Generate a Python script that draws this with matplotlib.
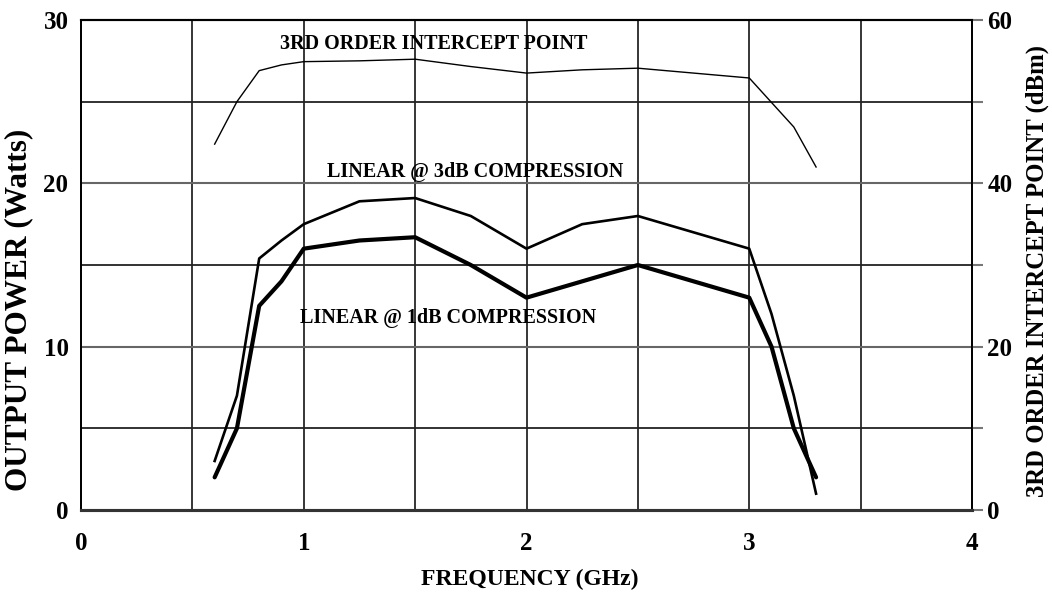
import matplotlib
matplotlib.use("Agg")
import matplotlib.pyplot as plt

# Data (frequency in GHz)
freq_3db = [0.6, 0.7, 0.8, 0.9, 1.0, 1.25, 1.5, 1.75, 2.0, 2.25, 2.5, 3.0, 3.1, 3.2, 3.3]
pout_3db = [3.0, 7.0, 15.4, 16.5, 17.5, 18.9, 19.1, 18.0, 16.0, 17.5, 18.0, 16.0, 12.0, 7.0, 1.0]

freq_1db = [0.6, 0.7, 0.8, 0.9, 1.0, 1.25, 1.5, 1.75, 2.0, 2.25, 2.5, 3.0, 3.1, 3.2, 3.3]
pout_1db = [2.0, 5.0, 12.5, 14.0, 16.0, 16.5, 16.7, 15.0, 13.0, 14.0, 15.0, 13.0, 10.0, 5.0, 2.0]

freq_ip3 = [0.6, 0.7, 0.8, 0.9, 1.0, 1.25, 1.5, 1.75, 2.0, 2.25, 2.5, 3.0, 3.2, 3.3]
ip3_dbm = [44.8, 50.0, 53.8, 54.5, 54.9, 55.0, 55.2, 54.3, 53.5, 53.9, 54.1, 52.9, 46.9, 42.0]

x_ticks = [0, 1, 2, 3, 4]
left_ticks = [0, 10, 20, 30]
right_ticks = [0, 20, 40, 60]

plt.rcParams['font.family'] = ['Liberation Serif', 'DejaVu Serif']
plt.rcParams['font.weight'] = 'bold'

fig = plt.figure(figsize=(10.52, 5.93), dpi=100)
ax = fig.add_axes([81/1052, 83/593, (972-81)/1052, (510-20)/593])
ax2 = ax.twinx()

ax.set_xlim(0, 4)
ax.set_ylim(0, 30)
ax2.set_ylim(0, 60)

# grid
for gx in [0.5, 1, 1.5, 2, 2.5, 3, 3.5]:
    ax.axvline(gx, color='black', lw=1.1, zorder=1)
for gy in [5, 15, 25]:
    ax.axhline(gy, color='#222222', lw=1.3, zorder=1)
for gy in [10, 20]:
    ax.axhline(gy, color='#666666', lw=1.5, zorder=1)

ax.plot(freq_ip3, [v / 2.0 for v in ip3_dbm], color='black', lw=1.0, zorder=3)
ax.plot(freq_3db, pout_3db, color='black', lw=1.9, zorder=3)
ax.plot(freq_1db, pout_1db, color='black', lw=3.0, zorder=3, solid_capstyle='round')

ax.set_xticks(x_ticks)
ax.set_yticks(left_ticks)
ax.tick_params(axis='both', length=0, labelsize=18)
ax.tick_params(axis='x', pad=16)
ax.tick_params(axis='y', pad=9)

ax2.set_yticks(right_ticks)
ax2.set_yticks([10, 30, 50], minor=True)
ax2.tick_params(axis='y', which='both', direction='out', length=8, width=1.5,
                color='#777777', labelsize=18, pad=3)
ax2.tick_params(axis='y', which='minor', labelright=False)

for a in (ax, ax2):
    a.spines['top'].set_linewidth(1.5)
    a.spines['left'].set_linewidth(1.3)
    a.spines['right'].set_linewidth(1.3)
    a.spines['bottom'].set_linewidth(2.2)
    a.spines['bottom'].set_color('#333333')

ax.text(1.585, 28.53, '3RD ORDER INTERCEPT POINT', ha='center', va='center',
        fontsize=14.5, fontweight='bold', zorder=4)
ax.text(1.77, 20.7, 'LINEAR @ 3dB COMPRESSION', ha='center', va='center',
        fontsize=14.5, fontweight='bold', zorder=4)
ax.text(1.648, 11.73, 'LINEAR @ 1dB COMPRESSION', ha='center', va='center',
        fontsize=14.5, fontweight='bold', zorder=4)

fig.text(530/1052, 1 - 579/593, 'FREQUENCY (GHz)', ha='center', va='center',
         fontsize=17, fontweight='bold')
fig.text(19/1052, 1 - 310/593, 'OUTPUT POWER (Watts)', ha='center', va='center',
         rotation=90, fontsize=22.5, fontweight='bold')
fig.text(1037/1052, 1 - 271/593, '3RD ORDER INTERCEPT POINT (dBm)', ha='center', va='center',
         rotation=90, fontsize=17.8, fontweight='bold')

fig.savefig('out.png', dpi=100)
